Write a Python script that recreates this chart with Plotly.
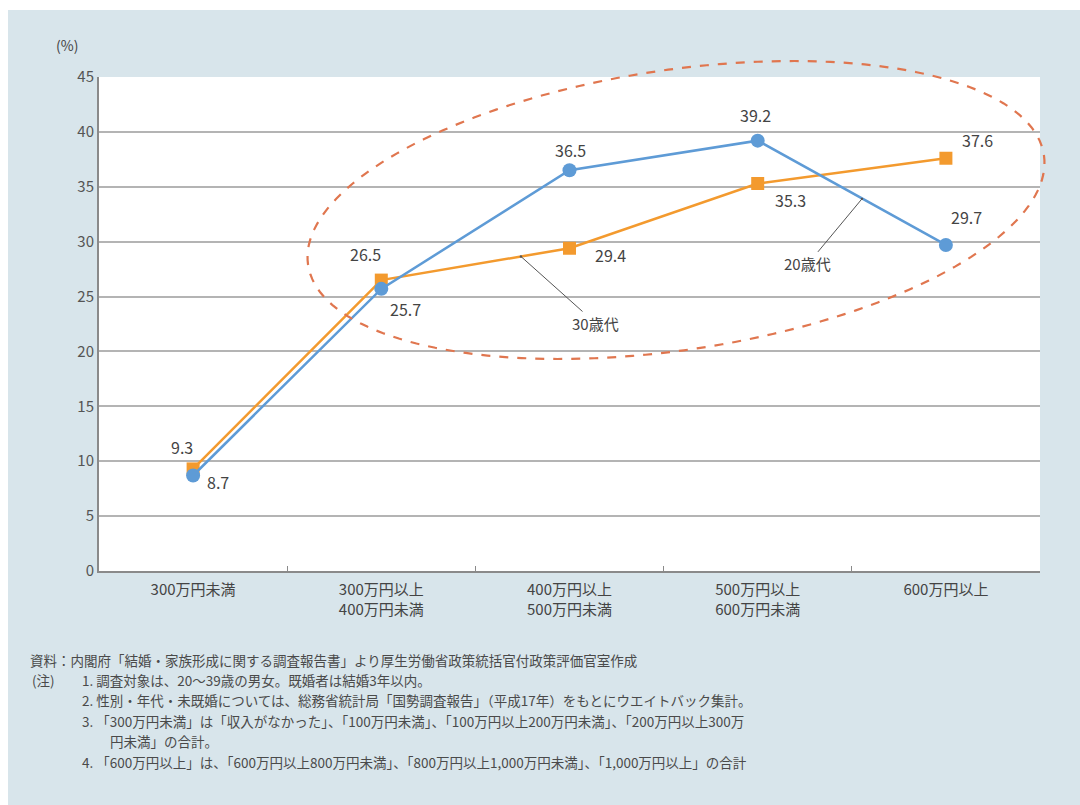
import numpy as np
import plotly.graph_objects as go

categories = ["300万円未満", "300万円以上<br>400万円未満", "400万円以上<br>500万円未満",
              "500万円以上<br>600万円未満", "600万円以上"]
age20 = [8.7, 25.7, 36.5, 39.2, 29.7]
age30 = [9.3, 26.5, 29.4, 35.3, 37.6]
y_ticks = [0, 5, 10, 15, 20, 25, 30, 35, 40, 45]

# label pixel offsets (style)
off20 = [(25, -7), (24, -20), (1, 20), (-2, 26), (21, 28)]
off30 = [(-11, 22), (-16, 26), (41, -7), (33, -17), (32, 18)]

W, H = 1080, 805
L, R, T, B = 99, 40, 77, 234
PW, PH = W - L - R, H - T - B

def px(x):
    return (x - L) / PW

def py(y):
    return (H - B - y) / PH

BLUE = "#5e9bd6"
ORANGE = "#f39a2e"
FONT = "Noto Sans CJK JP"
TXT = "#444444"

fig = go.Figure()
fig.add_trace(go.Scatter(x=categories, y=age30, mode="lines+markers", name="30歳代",
                         line=dict(color=ORANGE, width=2.5),
                         marker=dict(symbol="square", size=13, color=ORANGE)))
fig.add_trace(go.Scatter(x=categories, y=age20, mode="lines+markers", name="20歳代",
                         line=dict(color=BLUE, width=2.5),
                         marker=dict(symbol="circle", size=14, color=BLUE)))

ann = []
for series, offs in ((age20, off20), (age30, off30)):
    for c, v, (dx, dy) in zip(categories, series, offs):
        ann.append(dict(x=c, y=v, xref="x", yref="y", text=f"{v:.1f}", showarrow=False,
                        xshift=dx, yshift=dy, font=dict(family=FONT, size=16, color=TXT)))

# callouts
ann.append(dict(x=1.742, y=28.65, xref="x", yref="y", text="30歳代", showarrow=True,
                ax=75, ay=67, arrowhead=6, arrowsize=0.6, arrowwidth=1, arrowcolor="#555",
                font=dict(family=FONT, size=15, color=TXT)))
ann.append(dict(x=3.554, y=33.9, xref="x", yref="y", text="20歳代", showarrow=True,
                ax=-54, ay=65, arrowhead=6, arrowsize=0.6, arrowwidth=1, arrowcolor="#555",
                font=dict(family=FONT, size=15, color=TXT)))

ann.append(dict(x=px(67), y=py(45), xref="paper", yref="paper", text="(%)", showarrow=False,
                xanchor="center", yanchor="middle", font=dict(family=FONT, size=14, color=TXT)))

notes = [
    (28, 660, "資料：内閣府「結婚・家族形成に関する調査報告書」より厚生労働省政策統括官付政策評価官室作成"),
    (30, 680, "(注)"),
    (80, 680, "1. 調査対象は、20～39歳の男女。既婚者は結婚3年以内。"),
    (80, 700, "2. 性別・年代・未既婚については、総務省統計局「国勢調査報告」（平成17年）をもとにウエイトバック集計。"),
    (80, 721, "3. 「300万円未満」は「収入がなかった」、「100万円未満」、「100万円以上200万円未満」、「200万円以上300万"),
    (108, 741, "円未満」の合計。"),
    (80, 762, "4. 「600万円以上」は、「600万円以上800万円未満」、「800万円以上1,000万円未満」、「1,000万円以上」の合計"),
]
for x0, y0, t in notes:
    ann.append(dict(x=px(x0), y=py(y0), xref="paper", yref="paper", text=t, showarrow=False,
                    xanchor="left", yanchor="middle", font=dict(family=FONT, size=13.5, color="#4a4a4a")))

# tilted dashed ellipse (decoration)
cx, cy, a, b, ang = 676, 210, 372, 140, np.deg2rad(-8.5)
tt = np.linspace(0, 2 * np.pi, 181)
ex = cx + a * np.cos(tt) * np.cos(ang) - b * np.sin(tt) * np.sin(ang)
ey = cy + a * np.cos(tt) * np.sin(ang) + b * np.sin(tt) * np.cos(ang)
path = "M " + " L ".join(f"{px(u):.5f},{py(v):.5f}" for u, v in zip(ex, ey)) + " Z"

shapes = [
    dict(type="path", xref="paper", yref="paper", path=path,
         line=dict(color="#e0764f", width=2.2, dash="dash"), layer="above"),
    dict(type="rect", xref="paper", yref="paper", x0=px(0), x1=px(W), y0=py(0), y1=py(10),
         line=dict(width=0), fillcolor="white", layer="above"),
    dict(type="rect", xref="paper", yref="paper", x0=px(0), x1=px(8), y0=py(0), y1=py(H),
         line=dict(width=0), fillcolor="white", layer="above"),
]

fig.update_layout(
    width=W, height=H, margin=dict(l=L, r=R, t=T, b=B),
    paper_bgcolor="#d8e5eb", plot_bgcolor="white", showlegend=False,
    annotations=ann, shapes=shapes,
    font=dict(family=FONT, color=TXT),
    xaxis=dict(type="category", range=[-0.5, 4.5], showgrid=False, showline=True,
               linecolor="#8a8a8a", linewidth=2, ticks="inside", tickson="boundaries",
               ticklen=5, tickcolor="#8a8a8a", ticklabelstandoff=4,
               tickfont=dict(family=FONT, size=15, color=TXT)),
    yaxis=dict(range=[0, 45], tickvals=y_ticks, showgrid=True, gridcolor="#b4b4b4", gridwidth=1.5,
               showline=True, linecolor="#8a8a8a", linewidth=2, zeroline=False,
               tickfont=dict(family=FONT, size=15, color="#555555")),
)

fig.write_html("out.html")
